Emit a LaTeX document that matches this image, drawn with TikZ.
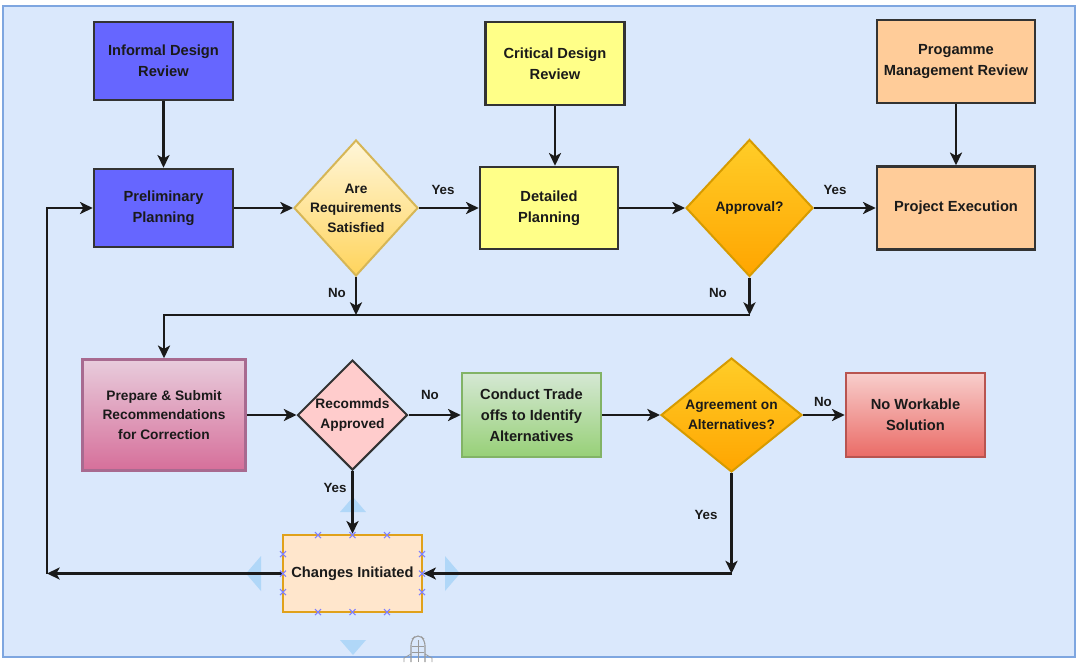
\documentclass[tikz,border=0pt]{standalone}
\usepackage{fontspec}
\setmainfont{Liberation Sans}
\usetikzlibrary{shapes.geometric,arrows.meta}

\definecolor{panelfill}{HTML}{DAE8FC}
\definecolor{panelline}{HTML}{7EA6E0}
\definecolor{ink}{HTML}{1A1A1A}
\definecolor{edge}{HTML}{333333}
\definecolor{violetbox}{HTML}{6666FF}
\definecolor{lemon}{HTML}{FFFF88}
\definecolor{peach}{HTML}{FFCC99}
\definecolor{paleyellowtop}{HTML}{FFF6D9}
\definecolor{paleyellowbot}{HTML}{FFD45C}
\definecolor{yellowline}{HTML}{D6B656}
\definecolor{ambertop}{HTML}{FFCD28}
\definecolor{amberbot}{HTML}{FFA500}
\definecolor{amberline}{HTML}{D79B00}
\definecolor{pinktop}{HTML}{E8CCDC}
\definecolor{pinkbot}{HTML}{D66F9A}
\definecolor{pinkline}{HTML}{A86A90}
\definecolor{rosefill}{HTML}{FFCCCC}
\definecolor{greentop}{HTML}{D5E8D4}
\definecolor{greenbot}{HTML}{97D077}
\definecolor{greenline}{HTML}{82B366}
\definecolor{redtop}{HTML}{F8CECC}
\definecolor{redbot}{HTML}{EA6B66}
\definecolor{redline}{HTML}{B85450}
\definecolor{creamfill}{HTML}{FFE6CC}
\definecolor{creamline}{HTML}{E0A11B}
\definecolor{hoverblue}{HTML}{A6D3F7}
\definecolor{handle}{HTML}{7F7FFF}
\definecolor{cursorgray}{HTML}{9A9A9A}

\begin{document}
\begin{tikzpicture}[x=0.75pt, y=-0.75pt,
  txt/.style={font=\bfseries\fontsize{11}{15.75}\selectfont, align=center, text=ink},
  dtxt/.style={font=\bfseries\fontsize{10.3}{14.6}\selectfont, align=center, text=ink},
  lbl/.style={font=\bfseries\fontsize{10}{12}\selectfont, text=ink, inner sep=0pt},
  box/.style 2 args={rectangle, draw=edge, line width=1.9pt, inner sep=0pt,
    minimum width={#1*0.75pt}, minimum height={#2*0.75pt}},
  dia/.style 2 args={diamond, draw=edge, line width=1.5pt, inner sep=0pt,
    minimum width={#1*0.75pt}, minimum height={#2*0.75pt}},
  conn/.style={draw=ink, line width=2pt, -{Stealth[length=9.5pt,width=9pt,inset=2.5pt]}},
  plain/.style={draw=ink, line width=2pt}
]
\useasboundingbox (0,0) rectangle (1079,662);
\fill[white] (0,0) rectangle (1079,662);
\draw[panelline, fill=panelfill, line width=1.5pt] (3,6) rectangle (1075,657);

% hover arrows around the selected shape
\fill[hoverblue, opacity=0.8] (340,512) -- (366,512) -- (353,497) -- cycle;
\fill[hoverblue, opacity=0.8] (261,556) -- (261,591) -- (246,573.5) -- cycle;
\fill[hoverblue, opacity=0.8] (445,556) -- (445,591) -- (460,573.5) -- cycle;
\fill[hoverblue, opacity=0.8] (340,640) -- (366,640) -- (353,655) -- cycle;

% move cursor glyph
\draw[cursorgray, line width=0.8pt, rounded corners=4pt] (411,662) -- (411,640) -- (418,634) -- (425,640) -- (425,662);
\draw[cursorgray, line width=0.6pt] (412,646) -- (424,646) (412,652) -- (424,652) (418,640) -- (418,662);
\draw[cursorgray, line width=0.6pt] (411,654) -- (404,658) -- (404,662) (425,654) -- (432,658) -- (432,662);

% top row
\node[box={139}{78}, fill=violetbox, txt] (idr) at (163.5,61) {Informal Design\\Review};
\node[box={139}{78}, fill=violetbox, txt] (pp) at (163.5,208) {Preliminary\\Planning};
\node[dia={124}{136}, draw=yellowline, top color=paleyellowtop, bottom color=paleyellowbot] (req) at (356,208) {};
\node[dtxt] (reqt) at (req) {Are\\Requirements\\Satisfied};
\node[box={139}{83}, fill=lemon, txt] (cdr) at (555,63.5) {Critical Design\\Review};
\node[box={138}{82}, fill=lemon, txt] (dp) at (549,208) {Detailed\\Planning};
\node[dia={127}{137}, draw=amberline, top color=ambertop, bottom color=amberbot] (appr) at (749.5,208) {};
\node[dtxt] (apprt) at (appr) {Approval?};
\node[box={158}{83}, fill=peach, txt] (pmr) at (956,61.5) {Progamme\\Management Review};
\node[box={158}{83}, fill=peach, txt] (pe) at (956,208) {Project Execution};

% middle row
\node[box={163}{111}, draw=pinkline, top color=pinktop, bottom color=pinkbot, dtxt] (psr) at (164,415) {Prepare \& Submit\\Recommendations\\for Correction};
\node[dia={110}{110}, fill=rosefill] (rec) at (352.5,415) {};
\node[dtxt] (rect) at (rec) {Recommds\\Approved};
\node[box={139}{84}, draw=greenline, top color=greentop, bottom color=greenbot, txt] (cto) at (531.5,415) {Conduct Trade\\offs to Identify\\Alternatives};
\node[dia={141}{114}, draw=amberline, top color=ambertop, bottom color=amberbot] (agr) at (731.5,415) {};
\node[dtxt] (agrt) at (agr) {Agreement on\\Alternatives?};
\node[box={139}{84}, draw=redline, top color=redtop, bottom color=redbot, txt] (nws) at (915.5,415) {No Workable\\Solution};

% bottom row
\node[box={139}{77}, draw=creamline, fill=creamfill, txt] (ci) at (352.5,573.5) {Changes Initiated};

% junction points
\coordinate (m) at (164,315);
\coordinate (lc) at (47,573.5);
\coordinate (ay) at (agr.south |- ci.east);

% connectors
\draw[conn] (idr) -- (pp);
\draw[conn] (pp) -- (req);
\draw[conn] (req) -- (dp);
\draw[conn] (cdr.south) -- (cdr.south |- dp.north);
\draw[conn] (dp) -- (appr);
\draw[conn] (appr) -- (pe);
\draw[conn] (pmr) -- (pe);
\draw[conn] (req.south) -- (req.south |- m);
\draw[conn] (appr.south) -- (appr.south |- m);
\draw[conn] (appr.south |- m) -- (m) -- (psr.north);
\draw[conn] (psr) -- (rec);
\draw[conn] (rec) -- (cto);
\draw[conn] (cto) -- (agr);
\draw[conn] (agr) -- (nws);
\draw[conn] (rec.south) -- (ci.north);
\draw[conn] (agr.south) -- (ay);
\draw[conn] (ay) -- (ci.east);
\draw[conn] (ci.west) -- (lc);
\draw[conn] (lc) -- (lc |- pp.west) -- (pp.west);

% branch labels
\node[lbl] (y1) at (443,190) {Yes};
\node[lbl] (y2) at (835,190) {Yes};
\node[lbl] (n1) at (337,293) {No};
\node[lbl] (n2) at (718,293) {No};
\node[lbl] (n3) at (430,395) {No};
\node[lbl] (n4) at (823,402) {No};
\node[lbl] (y3) at (335,488) {Yes};
\node[lbl] (y4) at (706,515) {Yes};

% selection handles on the selected shape
\foreach \hx/\hy in {318/535, 352.5/535, 387/535, 318/612, 352.5/612, 387/612,
                     283/554, 283/573.5, 283/592, 422/554, 422/573.5, 422/592}
  \draw[handle, line width=0.8pt] (\hx-3,\hy-3) -- (\hx+3,\hy+3) (\hx-3,\hy+3) -- (\hx+3,\hy-3);
\end{tikzpicture}
\end{document}
